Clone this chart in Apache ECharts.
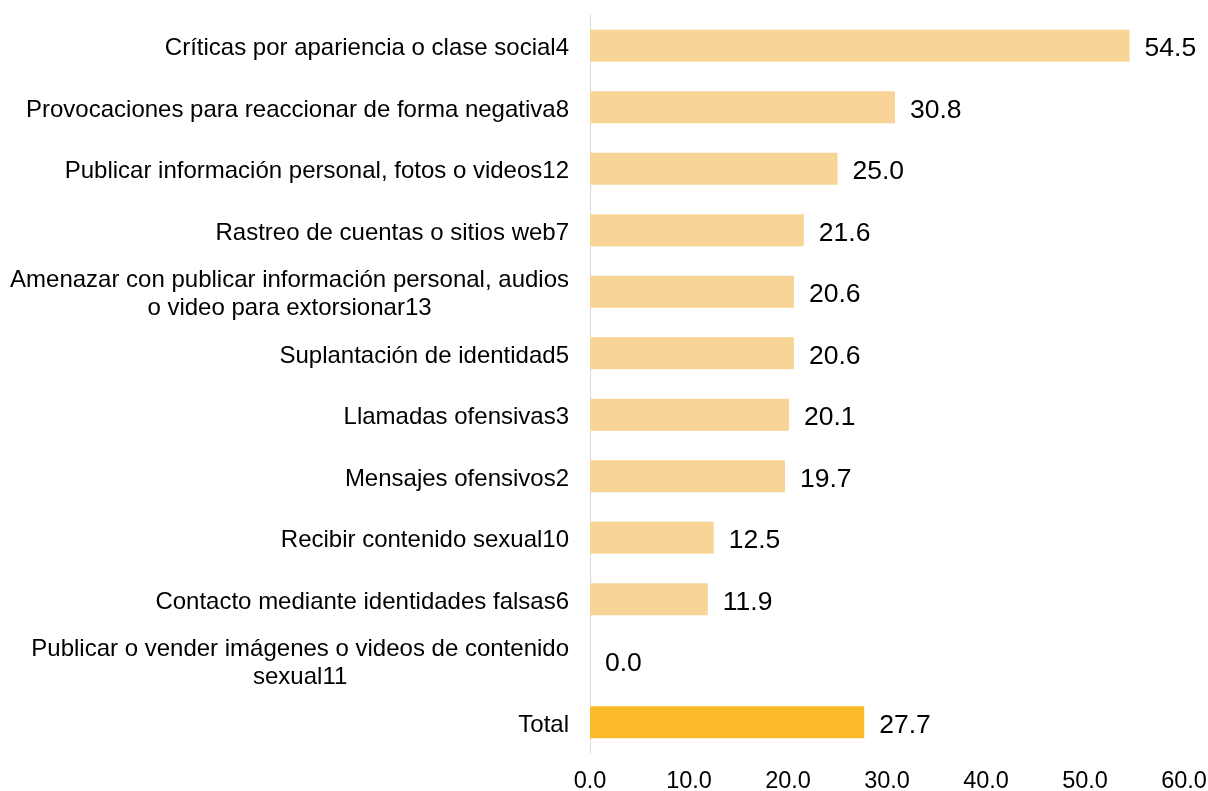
<!DOCTYPE html>
<html>
<head>
<meta charset="utf-8">
<script src="https://cdn.jsdelivr.net/npm/echarts@6/dist/echarts.min.js"></script>
<style>
html,body{margin:0;padding:0;background:#fff;}
#chart{width:1208px;height:791px;}
</style>
</head>
<body>
<div id="chart"></div>
<script>
var categories = [
  'Críticas por apariencia o clase social4',
  'Provocaciones para reaccionar de forma negativa8',
  'Publicar información personal, fotos o videos12',
  'Rastreo de cuentas o sitios web7',
  'Amenazar con publicar información personal, audios\no video para extorsionar13',
  'Suplantación de identidad5',
  'Llamadas ofensivas3',
  'Mensajes ofensivos2',
  'Recibir contenido sexual10',
  'Contacto mediante identidades falsas6',
  'Publicar o vender imágenes o videos de contenido\nsexual11',
  'Total'
];
var values = [54.5, 30.8, 25.0, 21.6, 20.6, 20.6, 20.1, 19.7, 12.5, 11.9, 0.0, 27.7];
var highlightCategory = 'Total';
var tickMin = 0, tickMax = 60, tickStep = 10;

var FONT = '"Liberation Sans", Arial, sans-serif';
var chart = echarts.init(document.getElementById('chart'));
chart.setOption({
  backgroundColor: '#ffffff',
  animation: false,
  grid: { left: 590, right: 24, top: 15, bottom: 38, containLabel: false, outerBoundsMode: 'none' },
  xAxis: {
    type: 'value', min: tickMin, max: tickMax, interval: tickStep,
    axisLine: { show: false }, axisTick: { show: false }, splitLine: { show: false },
    axisLabel: {
      margin: 17, color: '#000', fontSize: 23.5, fontFamily: FONT,
      formatter: function (v) { return v.toFixed(1); }
    }
  },
  yAxis: {
    type: 'category', data: categories, inverse: true,
    axisLine: { show: true, lineStyle: { color: '#d9d9d9', width: 1 } },
    axisTick: { show: false },
    axisLabel: {
      margin: 21, color: '#000', fontSize: 24, fontFamily: FONT,
      padding: [6, 0, 0, 0],
      formatter: function (v) { return '{c|' + v.split('\n').join('}\n{c|') + '}'; },
      rich: { c: { align: 'center', fontSize: 24, fontFamily: FONT, color: '#000', lineHeight: 28 } }
    }
  },
  series: [{
    type: 'bar',
    barWidth: 32,
    data: values.map(function (v, i) {
      return {
        value: v,
        itemStyle: { color: categories[i] === highlightCategory ? '#FABA2A' : '#F8D496' }
      };
    }),
    label: {
      show: true, position: 'right', distance: 15, offset: [0, 3], color: '#000', fontSize: 26.5, fontFamily: FONT,
      formatter: function (p) { return p.value.toFixed(1); }
    }
  }]
});
</script>
</body>
</html>
